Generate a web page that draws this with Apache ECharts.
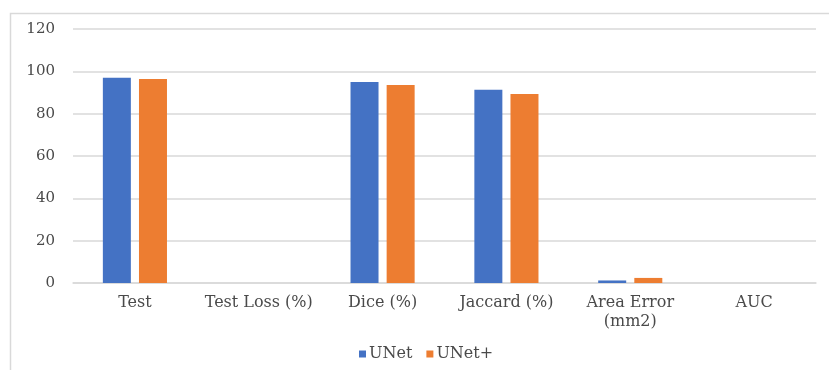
<!DOCTYPE html>
<html>
<head>
<meta charset="utf-8">
<script src="https://cdn.jsdelivr.net/npm/echarts@6/dist/echarts.min.js"></script>
<style>
  html, body { margin: 0; padding: 0; background: #ffffff; }
  #chart { width: 829px; height: 370px; }
</style>
</head>
<body>
<div id="chart"></div>
<script>
// Segmentation metrics for the two models
const categories = ['Test', 'Test Loss (%)', 'Dice (%)', 'Jaccard (%)', 'Area Error\n(mm2)', 'AUC'];
const unetValues = [97, 0, 95, 91.3, 1.2, 0];
const unetPlusValues = [96.4, 0, 93.5, 89.3, 2.4, 0];
const seriesNames = ['UNet', 'UNet+'];
const yTicks = { min: 0, max: 120, interval: 20 };

const textFont = 'DejaVu Serif';
const textColor = '#4a4a4a';
const gridColor = '#d9d9d9';

const chart = echarts.init(document.getElementById('chart'), null, { renderer: 'canvas' });

chart.setOption({
  backgroundColor: '#ffffff',
  animation: false,
  graphic: [{
    // light frame around the chart area
    type: 'rect',
    left: 8, top: 11,
    shape: { width: 840, height: 380 },
    style: { fill: 'none', stroke: gridColor, lineWidth: 1.5 },
    silent: true
  }],
  grid: { left: 73, right: 13, top: 29, bottom: 87, containLabel: false },
  legend: {
    data: seriesNames,
    left: 354,
    top: 341,
    itemWidth: 7,
    itemHeight: 7,
    itemGap: 14,
    icon: 'rect',
    textStyle: { fontFamily: textFont, fontSize: 16, color: textColor, padding: [0, 0, 0, -2] }
  },
  xAxis: {
    type: 'category',
    data: categories,
    axisLine: { show: true, lineStyle: { color: gridColor, width: 1.5 } },
    axisTick: { show: false },
    axisLabel: {
      fontFamily: textFont, fontSize: 16, color: textColor,
      margin: 10, lineHeight: 19, interval: 0
    }
  },
  yAxis: {
    type: 'value',
    min: yTicks.min, max: yTicks.max, interval: yTicks.interval,
    axisLine: { show: false },
    axisTick: { show: false },
    axisLabel: { fontFamily: textFont, fontSize: 15, color: textColor, margin: 18 },
    splitLine: { lineStyle: { color: gridColor, width: 1.5 } }
  },
  series: [
    {
      name: seriesNames[0], type: 'bar', data: unetValues,
      barWidth: 28, barGap: '29%',
      itemStyle: { color: '#4472C4' }
    },
    {
      name: seriesNames[1], type: 'bar', data: unetPlusValues,
      barWidth: 28,
      itemStyle: { color: '#ED7D31' }
    }
  ]
});
</script>
</body>
</html>
